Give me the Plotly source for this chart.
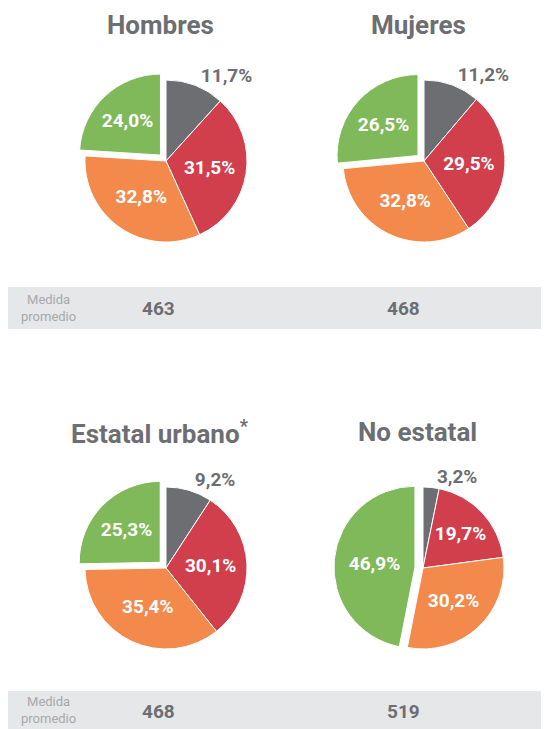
import plotly.graph_objects as go

# --- datos ---
grupos = ["Hombres", "Mujeres", "Estatal urbano<sup>*</sup>", "No estatal"]
categorias = ["Nivel 1", "Nivel 2", "Nivel 3", "Nivel 4"]
hombres = [11.7, 31.5, 32.8, 24.0]
mujeres = [11.2, 29.5, 32.8, 26.5]
estatal_urbano = [9.2, 30.1, 35.4, 25.3]
no_estatal = [3.2, 19.7, 30.2, 46.9]
medidas = [463, 468, 468, 519]

colores = ["#6d6e71", "#d13e4c", "#f4894c", "#80b959"]
gris_texto = "#6d6e71"
fuente = "Roboto, Arial, sans-serif"

# la página tiene 8px de margen en body: figura más chica y coordenadas desplazadas
OFF = 8
W, H = 549 - OFF, 729 - OFF


def px(x):
    return (x - OFF) / W


def py(y):
    return 1 - (y - OFF) / H


# centros aproximados de cada torta (px de la imagen) y radio
centros = [(166, 161), (424, 161), (166, 568), (423, 568)]
radio = 81
pull = 0.1

fig = go.Figure()

for i, (nombre, vals) in enumerate(zip(grupos, [hombres, mujeres, estatal_urbano, no_estatal])):
    cx, cy = centros[i]
    half = radio * (1 + pull)
    fig.add_trace(go.Pie(
        labels=categorias,
        values=vals,
        text=["<b>" + f"{v:.1f}".replace(".", ",") + "%</b>" for v in vals],
        textinfo="text",
        textposition=["outside", "inside", "inside", "inside"],
        insidetextorientation="horizontal",
        textfont=dict(family=fuente, size=19, color=[gris_texto, "white", "white", "white"]),
        outsidetextfont=dict(family=fuente, size=19, color=gris_texto),
        marker=dict(colors=colores, line=dict(color="white", width=1)),
        pull=[0, 0, 0, pull],
        sort=False,
        direction="clockwise",
        rotation=0,
        showlegend=False,
        hoverinfo="skip",
        domain=dict(x=[px(cx - half), px(cx + half)],
                    y=[py(cy + half), py(cy - half)]),
    ))
    # título de cada torta
    fig.add_annotation(
        x=px(cx - 6), y=py(cy - 136), xref="paper", yref="paper",
        text=f"<b>{nombre}</b>", showarrow=False,
        font=dict(family=fuente, size=26, color=gris_texto),
        xanchor="center", yanchor="middle",
    )

# franjas de "Medida promedio"
bandas = [(287, 329, 308), (691, 740, 710)]
for (y0, y1, yt) in bandas:
    fig.add_shape(type="rect", xref="paper", yref="paper",
                  x0=px(8), x1=1, y0=py(y1), y1=py(y0),
                  fillcolor="#e6e7e8", line_width=0, layer="below")
    fig.add_annotation(
        x=px(48), y=py(yt), xref="paper", yref="paper",
        text="Medida<br>promedio", showarrow=False, align="center",
        font=dict(family=fuente, size=13, color="#a7a9ac"),
        xanchor="center", yanchor="middle",
    )

pos_medidas = [(158, 308), (403, 308), (158, 711), (403, 711)]
for m, (mx, my) in zip(medidas, pos_medidas):
    fig.add_annotation(
        x=px(mx), y=py(my), xref="paper", yref="paper",
        text=f"<b>{m}</b>", showarrow=False,
        font=dict(family=fuente, size=19, color=gris_texto),
        xanchor="center", yanchor="middle",
    )

fig.update_layout(
    width=W, height=H,
    margin=dict(l=0, r=0, t=0, b=0),
    paper_bgcolor="white",
    plot_bgcolor="white",
    uniformtext=dict(minsize=19, mode="show"),
)

fig.write_html("out.html")
